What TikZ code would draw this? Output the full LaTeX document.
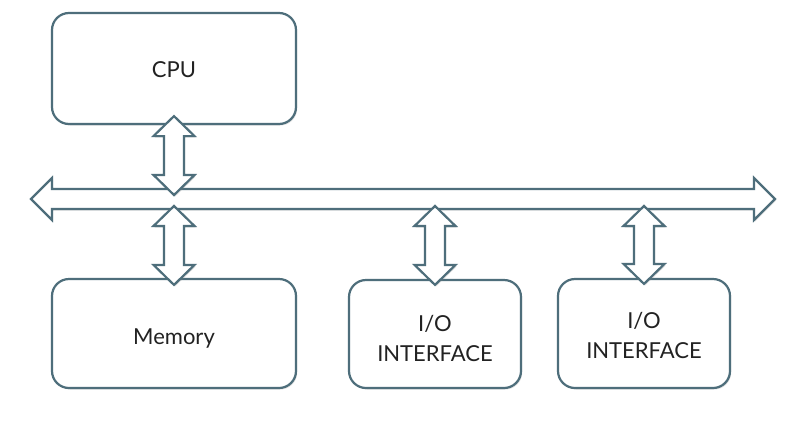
\documentclass[tikz,border=0pt]{standalone}
\usepackage{fontspec}
\setmainfont{Lato}
\usetikzlibrary{calc,shadows}
\definecolor{edge}{HTML}{4E6E7B}
\definecolor{txt}{HTML}{222222}
\tikzset{
  box/.style={draw=edge, line width=2.2pt, fill=white, rounded corners=17pt,
    inner sep=0pt,
    drop shadow={opacity=0.25, shadow xshift=1.2pt, shadow yshift=-1.5pt}},
  lbl/.style={align=center, font=\fontsize{22}{30}\selectfont, text=txt, inner sep=0pt},
  blockarrow/.style={draw=edge, line width=2.2pt, fill=white, line join=miter,
    drop shadow={opacity=0.25, shadow xshift=1.2pt, shadow yshift=-1.5pt}}
}
\newcommand{\vbiarrow}[2]{%
  \path[blockarrow] let \p1=(#1), \p2=(#2) in
    (\x1,\y1) -- (\x1+20.5pt,\y1-20pt) -- (\x1+10pt,\y1-20pt) -- (\x1+10pt,\y2+20pt)
    -- (\x1+20.5pt,\y2+20pt) -- (\x1,\y2) -- (\x1-20.5pt,\y2+20pt) -- (\x1-10pt,\y2+20pt)
    -- (\x1-10pt,\y1-20pt) -- (\x1-20.5pt,\y1-20pt) -- cycle;}
\newcommand{\hbiarrow}[2]{%
  \path[blockarrow] let \p1=(#1), \p2=(#2) in
    (\x1,\y1) -- (\x1+21pt,\y1+21pt) -- (\x1+21pt,\y1+10pt) -- (\x2-21pt,\y1+10pt)
    -- (\x2-21pt,\y1+21pt) -- (\x2,\y1) -- (\x2-21pt,\y1-21pt) -- (\x2-21pt,\y1-10pt)
    -- (\x1+21pt,\y1-10pt) -- (\x1+21pt,\y1-21pt) -- cycle;}
\begin{document}
\begin{tikzpicture}[x=1pt,y=-1pt]
\useasboundingbox[fill=white] (0,0) rectangle (808,426);
% boxes
\node[box, minimum width=244pt, minimum height=111pt] (cpu) at (174,68.5) {};
\node[box, minimum width=244pt, minimum height=109pt] (mem) at (174,333.5) {};
\node[box, minimum width=172pt, minimum height=108pt] (io1) at (435,334) {};
\node[box, minimum width=172pt, minimum height=109pt] (io2) at (644,333.5) {};
% texts
\node[lbl] (cpuL) at ($(cpu.center)+(0,1)$) {CPU};
\node[lbl] (memL) at ($(mem.center)+(0,5)$) {Memory};
\node[lbl] (io1L) at ($(io1.center)+(0,4)$) {I/O\\INTERFACE};
\node[lbl] (io2L) at ($(io2.center)+(0,2)$) {I/O\\INTERFACE};
% bus
\coordinate (busL) at (31,199);
\coordinate (busR) at (775,199);
\hbiarrow{busL}{busR}
% vertical connectors
\coordinate (cpuT) at ($(cpu.south)+(0,-9)$);
\coordinate (cpuB) at ($(cpu.south |- busL)+(0,-4)$);
\coordinate (memT) at ($(mem.north |- busL)+(0,7)$);
\coordinate (memB) at ($(mem.north)+(0,7)$);
\coordinate (io1T) at ($(io1.north |- busL)+(0,7)$);
\coordinate (io1B) at ($(io1.north)+(0,6)$);
\coordinate (io2T) at ($(io2.north |- busL)+(0,7)$);
\coordinate (io2B) at ($(io2.north)+(0,6)$);
\vbiarrow{cpuT}{cpuB}
\vbiarrow{memT}{memB}
\vbiarrow{io1T}{io1B}
\vbiarrow{io2T}{io2B}
\end{tikzpicture}
\end{document}
